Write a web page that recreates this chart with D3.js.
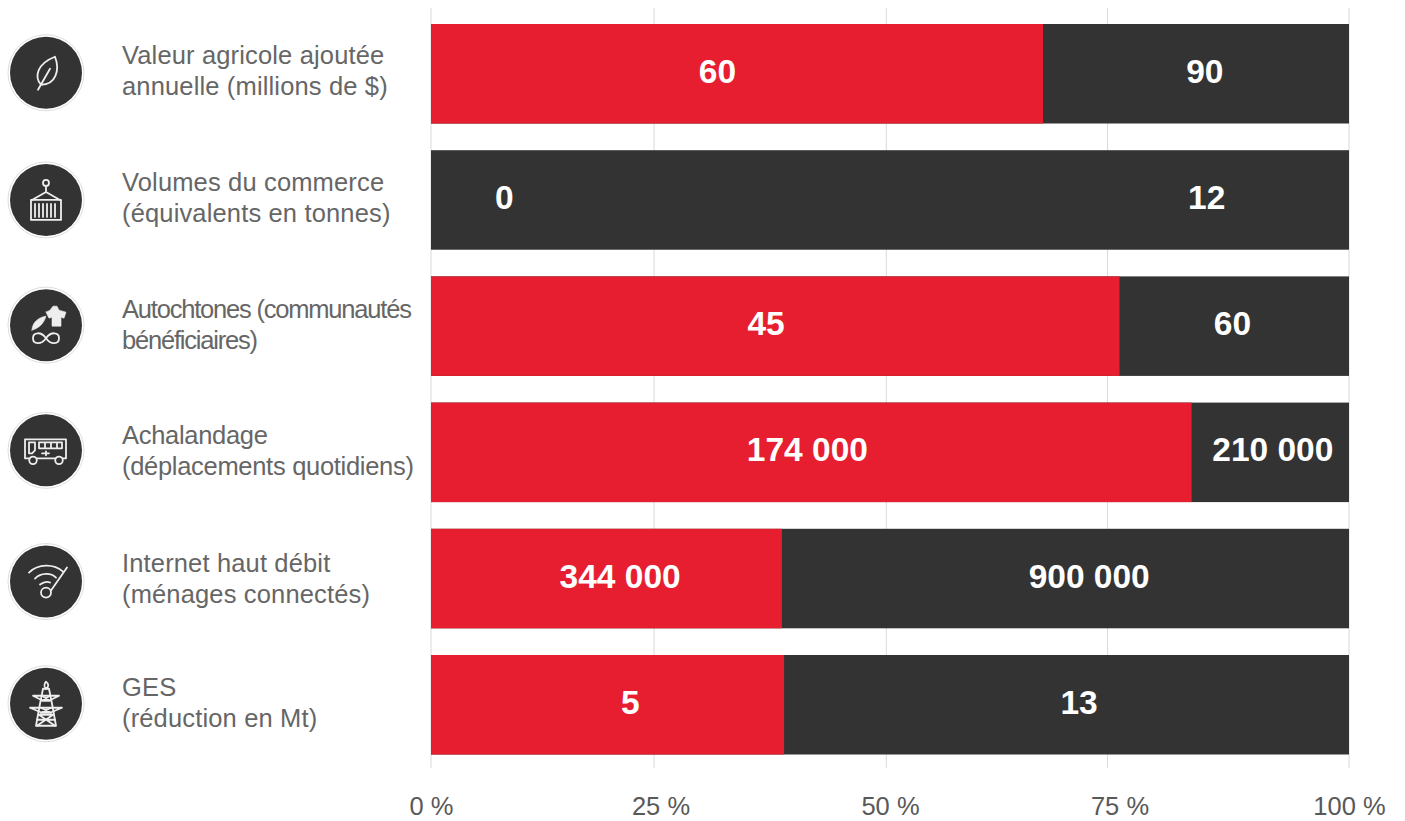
<!DOCTYPE html>
<html lang="fr">
<head>
<meta charset="utf-8">
<script src="https://cdn.jsdelivr.net/npm/d3@7/dist/d3.min.js"></script>
<style>
html,body{margin:0;padding:0;background:#fff}
svg{display:block;font-family:"Liberation Sans",Arial,sans-serif}
</style>
</head>
<body>
<svg id="chart" width="1405" height="821"></svg>
<script>
// Résultats atteints et cibles par indicateur
const indicators = ["agriculture", "commerce", "autochtones", "achalandage", "internet", "ges"];
const categoryLines = [
  ["Valeur agricole ajoutée", "annuelle (millions de $)"],
  ["Volumes du commerce", "(équivalents en tonnes)"],
  ["Autochtones (communautés", "bénéficiaires)"],
  ["Achalandage", "(déplacements quotidiens)"],
  ["Internet haut débit", "(ménages connectés)"],
  ["GES", "(réduction en Mt)"]
];
const achieved = [60, 0, 45, 174000, 344000, 5];
const target = [90, 12, 60, 210000, 900000, 13];
const percentTicks = [0, 25, 50, 75, 100];
const gridPercents = [0, 24.3, 49.6, 73.7, 100];
// Centre de chaque étiquette, en pourcentage de l'axe
const achievedLabelAt = [31.2, 8, 36.5, 41, 20.6, 21.7];
const targetLabelAt = [84.3, 84.5, 87.3, 91.7, 71.7, 70.6];
// Réglages fins par rangée : pictogramme, libellé, interlettrage
const iconNudge = [-1, 0, -1, -2, 3, -1];
const captionNudge = [0, 1, 2, 1, 3, 1];
const captionTracking = [0.15, 0.15, -1.2, -0.3, 0.15, 0.15];

const RED = "#e61e30", DARK = "#333333", GREY = "#666666";
const svg = d3.select("#chart");
const frenchNumber = v => d3.format(",")(v).replace(/,/g, "\u00a0");

const x = d3.scaleLinear().domain([0, 100]).range([431, 1349]);
const y = d3.scaleBand().domain(indicators).range([24, 754.5]).paddingInner(0.2115).paddingOuter(0);

// Lignes de repère verticales
svg.append("g").selectAll("line").data(gridPercents).join("line")
  .attr("x1", d => x(d)).attr("x2", d => x(d))
  .attr("y1", 8).attr("y2", 768)
  .attr("stroke", "#d9d9d9").attr("stroke-width", 1);

// Axe du bas, sans trait : seules les étiquettes restent
const axis = svg.append("g").attr("transform", "translate(0,806)")
  .call(d3.axisBottom(x).tickValues(percentTicks).tickSize(0).tickPadding(0).tickFormat(d => d + " %"));
axis.select(".domain").remove();
axis.selectAll("text").attr("font-family", "Liberation Sans, Arial, sans-serif")
  .attr("font-size", 25.5).attr("fill", "#595959").attr("y", 0).attr("dy", "0.36em");

// Barres : la part atteinte sur la cible, puis le reste
const rows = svg.append("g").selectAll("g").data(indicators).join("g")
  .attr("transform", d => `translate(0,${y(d)})`);
rows.append("rect").attr("x", x(0)).attr("width", x(100) - x(0))
  .attr("height", y.bandwidth()).attr("fill", DARK);
rows.append("rect").attr("x", x(0))
  .attr("width", (d, i) => x(achieved[i] / target[i] * 100) - x(0))
  .attr("height", y.bandwidth()).attr("fill", RED);

const valueLabel = (sel, values, places) => sel.append("text")
  .attr("x", (d, i) => x(places[i]))
  .attr("y", y.bandwidth() / 2 - 3)
  .attr("dy", "0.36em").attr("text-anchor", "middle")
  .attr("font-size", 33.5).attr("font-weight", 700).attr("fill", "#fff")
  .text((d, i) => frenchNumber(values[i]));
valueLabel(rows, achieved, achievedLabelAt);
valueLabel(rows, target, targetLabelAt);

// Libellés des indicateurs
rows.append("text").attr("x", 122).attr("y", 0)
  .attr("font-size", 25.5).attr("fill", GREY)
  .attr("letter-spacing", (d, i) => captionTracking[i])
  .attr("transform", (d, i) => `translate(0,${captionNudge[i]})`)
  .selectAll("tspan").data((d, i) => categoryLines[i]).join("tspan")
  .attr("x", 122).attr("y", (d, i) => 40 + i * 31).text(d => d);

// Pictogrammes dessinés au trait dans un disque sombre
const glyphs = {
  agriculture: g => {
    g.append("path").attr("d", "M-5 12C-12 4-9-9 9-16C14-3 10 12-5 12Z");
    g.append("path").attr("d", "M-8 17L4-4");
  },
  commerce: g => {
    g.append("circle").attr("cy", -17).attr("r", 3);
    g.append("path").attr("d", "M0-14V-8M0-8L-14 0M0-8L14 0");
    g.append("path").attr("d", "M-15 0H15V20H-15Z");
    g.append("path").attr("d", "M-11 4V17M-7 4V17M-3 4V17M1 4V17M5 4V17M9 4V17");
  },
  autochtones: g => {
    g.append("path").attr("class", "solid").attr("d", "M-14 5C-14-3-7-8 0-9C-2-2-7 3-14 5Z");
    g.append("path").attr("class", "solid").attr("d", "M4-15L7-19L11-19L13-15L20-13L18-7L15-8L15 1H6V-8L3-7L0-13Z");
    g.append("path").attr("d", "M0 13C-5 6-13 7-13 13C-13 19-5 20 0 13C5 6 13 7 13 13C13 19 5 20 0 13Z");
  },
  achalandage: g => {
    g.append("path").attr("d", "M-21-11H20V8H-21Z");
    g.append("path").attr("d", "M-17-8H-11V0L-14 3H-17Z");
    g.append("path").attr("d", "M-7-8H16V-2H-7ZM-1-8V-2M5-8V-2M11-8V-2");
    g.append("path").attr("d", "M-4 3H3M0 1V5");
    g.append("circle").attr("cx", -13).attr("cy", 10).attr("r", 3.8).attr("fill", DARK);
    g.append("circle").attr("cx", 13).attr("cy", 10).attr("r", 3.8).attr("fill", DARK);
  },
  internet: g => {
    g.append("path").attr("d", "M-17-9C-8-18 8-18 17-10");
    g.append("path").attr("d", "M-11-3C-5-9 5-9 10-4");
    g.append("path").attr("d", "M-6 3C-2 0 2 0 4 1");
    g.append("circle").attr("cy", 11).attr("r", 5);
    g.append("path").attr("d", "M5 9L21-14");
  },
  ges: g => {
    g.append("path").attr("d", "M0-22C3-20 3-17 0-15C-2-17-2-20 0-22Z");
    g.append("path").attr("d", "M-3-15L-6 0L-10 22H10L6 0L3-15Z");
    g.append("path").attr("d", "M-13-8H13L3-3H-3ZM-16 4H16L4 9H-4Z");
    g.append("path").attr("d", "M-8 11H8M-9 16H9M-7 11L9 22M7 11L-9 22M-4-8L4-3M4-8L-4-3M-5 4L5 9M5 4L-5 9");
  }
};

const icons = svg.append("g").selectAll("g").data(indicators).join("g")
  .attr("transform", (d, i) => `translate(46,${y(d) + y.bandwidth() / 2 + iconNudge[i]})`);
icons.append("circle").attr("r", 38).attr("fill", "none").attr("stroke", "#dedede").attr("stroke-width", 1);
icons.append("circle").attr("r", 36).attr("fill", DARK);
icons.each(function(d) {
  const g = d3.select(this).append("g")
    .attr("fill", "none").attr("stroke", "#eeeeee").attr("stroke-width", 1.8)
    .attr("stroke-linecap", "round").attr("stroke-linejoin", "round");
  glyphs[d](g);
  g.selectAll(".solid").attr("fill", "#eeeeee").attr("stroke-width", 0.6);
});
</script>
</body>
</html>
